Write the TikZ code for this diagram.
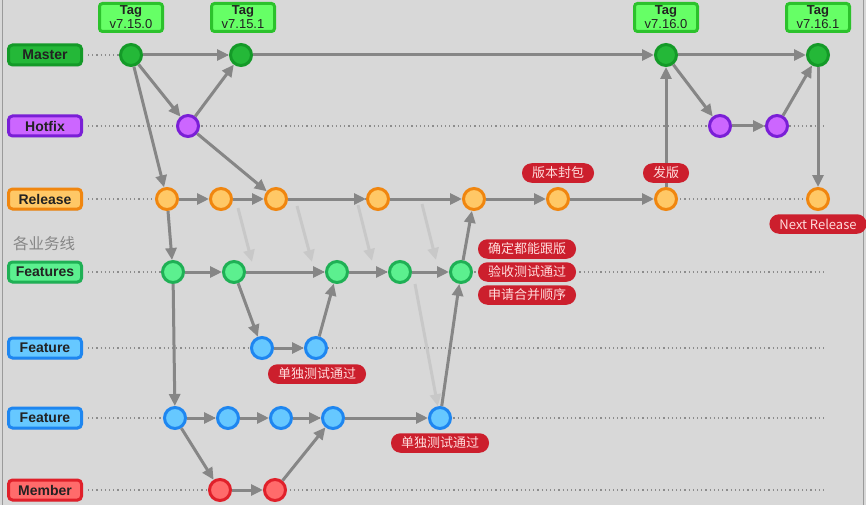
\documentclass[tikz,border=0pt]{standalone}
\usepackage{fontspec}
\setmainfont{Liberation Sans}
\newfontfamily\cjk{Noto Sans CJK SC}
\usetikzlibrary{arrows.meta,shadows}

\definecolor{bg}{HTML}{D8D8D8}
\definecolor{edgegrey}{HTML}{9A9A9A}
\definecolor{flowgrey}{HTML}{868686}
\definecolor{ghostgrey}{HTML}{C8C8C8}
\definecolor{dotgrey}{HTML}{8C8C8C}
\definecolor{labeltext}{HTML}{222222}
\definecolor{masterfill}{HTML}{24B838}
\definecolor{masterline}{HTML}{149A28}
\definecolor{hotfixfill}{HTML}{CC66FF}
\definecolor{hotfixline}{HTML}{7A1FD6}
\definecolor{releasefill}{HTML}{FFC866}
\definecolor{releaseline}{HTML}{F0860F}
\definecolor{featuresfill}{HTML}{5CF08F}
\definecolor{featuresline}{HTML}{1FB055}
\definecolor{featurefill}{HTML}{66C8FF}
\definecolor{featureline}{HTML}{1E86F0}
\definecolor{memberfill}{HTML}{FF6B6B}
\definecolor{memberline}{HTML}{E0202A}
\definecolor{tagfill}{HTML}{66FF66}
\definecolor{tagline}{HTML}{2CC22C}
\definecolor{notefill}{HTML}{CC1F2D}
\definecolor{notetext}{HTML}{FFDCDC}

\tikzset{
  lane/.style={rounded corners=4pt, line width=3pt, minimum width=73pt,
    minimum height=20pt, inner sep=0pt, text=labeltext,
    font=\fontsize{14}{14}\selectfont\bfseries,
    drop shadow={shadow xshift=1pt, shadow yshift=-1.5pt, opacity=0.25}},
  commit/.style={circle, minimum size=21pt, inner sep=0pt, line width=3pt},
  mastercommit/.style={commit, fill=masterfill, draw=masterline},
  hotfixcommit/.style={commit, fill=hotfixfill, draw=hotfixline},
  releasecommit/.style={commit, fill=releasefill, draw=releaseline},
  featurescommit/.style={commit, fill=featuresfill, draw=featuresline},
  featurecommit/.style={commit, fill=featurefill, draw=featureline},
  membercommit/.style={commit, fill=memberfill, draw=memberline},
  flow/.style={draw=flowgrey, line width=3pt, -{Triangle[length=12pt,width=11pt]}},
  ghost/.style={draw=ghostgrey, line width=3pt, -{Triangle[length=12pt,width=11pt]}},
  laneline/.style={draw=dotgrey, line width=1.1pt, dash pattern=on 1.2pt off 3pt},
  tagbox/.style={fill=tagfill, draw=tagline, line width=3pt, rounded corners=3pt,
    minimum width=63pt, minimum height=28pt, inner sep=0pt, align=center,
    text=labeltext, font=\fontsize{13}{14}\selectfont},
  note/.style={fill=notefill, rounded corners=9.5pt, minimum height=19.5pt,
    inner xsep=10pt, inner ysep=0pt, text=notetext,
    font=\cjk\fontsize{13}{13}\selectfont},
}

\begin{document}
\begin{tikzpicture}[x=1pt,y=-1pt]
  % canvas
  \fill[bg] (0,0) rectangle (866,505);
  \useasboundingbox (0,0) rectangle (866,505);
  \draw[edgegrey, line width=1pt] (2.5,0) -- (2.5,505);
  \draw[edgegrey, line width=1pt] (863.5,0) -- (863.5,505);

  % lane labels
  \node[lane, fill=masterfill, draw=masterline]     (lMaster)   at (45,55)  {Master};
  \node[lane, fill=hotfixfill, draw=hotfixline]     (lHotfix)   at (45,126) {Hotfix};
  \node[lane, fill=releasefill, draw=releaseline]   (lRelease)  at (45,199) {Release};
  \node[lane, fill=featuresfill, draw=featuresline] (lFeatures) at (45,272) {Features};
  \node[lane, fill=featurefill, draw=featureline]   (lFeatA)    at (45,348) {Feature};
  \node[lane, fill=featurefill, draw=featureline]   (lFeatB)    at (45,418) {Feature};
  \node[lane, fill=memberfill, draw=memberline]     (lMember)   at (45,490) {Member};
  \node[text=flowgrey, font=\cjk\fontsize{15.5}{15.5}\selectfont] (business) at (44,244) {各业务线};

  % dotted lanes
  \coordinate (eMaster)   at (825,55);
  \coordinate (eHotfix)   at (825,126);
  \coordinate (eRelease)  at (825,199);
  \coordinate (eFeatures) at (825,272);
  \coordinate (eFeatA)    at (825,348);
  \coordinate (eFeatB)    at (825,418);
  \coordinate (eMember)   at (825,490);
  \draw[laneline] ([xshift=5pt]lMaster.east)   -- (eMaster);
  \draw[laneline] ([xshift=5pt]lHotfix.east)   -- (eHotfix);
  \draw[laneline] ([xshift=5pt]lRelease.east)  -- (eRelease);
  \draw[laneline] ([xshift=5pt]lFeatures.east) -- (eFeatures);
  \draw[laneline] ([xshift=5pt]lFeatA.east)    -- (eFeatA);
  \draw[laneline] ([xshift=5pt]lFeatB.east)    -- (eFeatB);
  \draw[laneline] ([xshift=5pt]lMember.east)   -- (eMember);

  % commits
  \node[mastercommit] (M1) at (131,55) {};
  \node[mastercommit] (M2) at (241,55) {};
  \node[mastercommit] (M3) at (666,55) {};
  \node[mastercommit] (M4) at (818,55) {};

  \node[hotfixcommit] (H1) at (188,126) {};
  \node[hotfixcommit] (H2) at (720,126) {};
  \node[hotfixcommit] (H3) at (777,126) {};

  \node[releasecommit] (R1) at (167,199) {};
  \node[releasecommit] (R2) at (221,199) {};
  \node[releasecommit] (R3) at (276,199) {};
  \node[releasecommit] (R4) at (378,199) {};
  \node[releasecommit] (R5) at (474,199) {};
  \node[releasecommit] (R6) at (558,199) {};
  \node[releasecommit] (R7) at (666,199) {};
  \node[releasecommit] (R8) at (818,199) {};

  \node[featurescommit] (F1) at (173,272) {};
  \node[featurescommit] (F2) at (234,272) {};
  \node[featurescommit] (F3) at (337,272) {};
  \node[featurescommit] (F4) at (400,272) {};
  \node[featurescommit] (F5) at (461,272) {};

  \node[featurecommit] (A1) at (262,348) {};
  \node[featurecommit] (A2) at (316,348) {};

  \node[featurecommit] (B1) at (175,418) {};
  \node[featurecommit] (B2) at (228,418) {};
  \node[featurecommit] (B3) at (281,418) {};
  \node[featurecommit] (B4) at (333,418) {};
  \node[featurecommit] (B5) at (440,418) {};

  \node[membercommit] (U1) at (220,490) {};
  \node[membercommit] (U2) at (275,490) {};

  % faint sync hints from release down to the business lines
  \coordinate (g1s) at (238,208); \coordinate (g1e) at (252,262);
  \coordinate (g2s) at (297,206); \coordinate (g2e) at (312,262);
  \coordinate (g3s) at (358,205); \coordinate (g3e) at (372,261);
  \coordinate (g4s) at (422,204); \coordinate (g4e) at (436,260);
  \coordinate (g5s) at (415,284);
  \draw[ghost] (g1s) -- (g1e);
  \draw[ghost] (g2s) -- (g2e);
  \draw[ghost] (g3s) -- (g3e);
  \draw[ghost] (g4s) -- (g4e);
  \draw[ghost] (g5s) -- (B5);

  % master and hotfix
  \draw[flow] (M1) -- (M2);
  \draw[flow] (M2) -- (M3);
  \draw[flow] (M3) -- (M4);
  \draw[flow] (M1) -- (H1);
  \draw[flow] (H1) -- (M2);
  \draw[flow] (M3) -- (H2);
  \draw[flow] (H2) -- (H3);
  \draw[flow] (H3) -- (M4);
  \draw[flow] (M4) -- (R8);

  % release
  \draw[flow] (M1) -- (R1);
  \draw[flow] (H1) -- (R3);
  \draw[flow] (R1) -- (R2);
  \draw[flow] (R2) -- (R3);
  \draw[flow] (R3) -- (R4);
  \draw[flow] (R4) -- (R5);
  \draw[flow] (R5) -- (R6);
  \draw[flow] (R6) -- (R7);
  \draw[flow] (R7) -- (M3);

  % business lines
  \draw[flow] (R1) -- (F1);
  \draw[flow] (F1) -- (F2);
  \draw[flow] (F2) -- (F3);
  \draw[flow] (F3) -- (F4);
  \draw[flow] (F4) -- (F5);
  \draw[flow] (F5) -- (R5);
  \draw[flow] (F2) -- (A1);
  \draw[flow] (A1) -- (A2);
  \draw[flow] (A2) -- (F3);
  \draw[flow] (F1) -- (B1);
  \draw[flow] (B1) -- (B2);
  \draw[flow] (B2) -- (B3);
  \draw[flow] (B3) -- (B4);
  \draw[flow] (B4) -- (B5);
  \draw[flow] (B5) -- (F5);
  \draw[flow] (B1) -- (U1);
  \draw[flow] (U1) -- (U2);
  \draw[flow] (U2) -- (B4);

  % tags
  \node[tagbox] (t1) at (131,17.5) {{\bfseries Tag}\\v7.15.0};
  \node[tagbox] (t2) at (243,17.5) {{\bfseries Tag}\\v7.15.1};
  \node[tagbox] (t3) at (666,17.5) {{\bfseries Tag}\\v7.16.0};
  \node[tagbox] (t4) at (818,17.5) {{\bfseries Tag}\\v7.16.1};

  % notes
  \node[note] (nPack)    at (558,173) {版本封包};
  \node[note] (nShip)    at (666,173) {发版};
  \node[note] (nNext)    at (818,224) {Next Release};
  \node[note] (nConfirm) at (527,249) {确定都能跟版};
  \node[note] (nAccept)  at (527,272) {验收测试通过};
  \node[note] (nOrder)   at (527,295) {申请合并顺序};
  \node[note] (nTestA)   at (317,374) {单独测试通过};
  \node[note] (nTestB)   at (440,443) {单独测试通过};
\end{tikzpicture}
\end{document}
